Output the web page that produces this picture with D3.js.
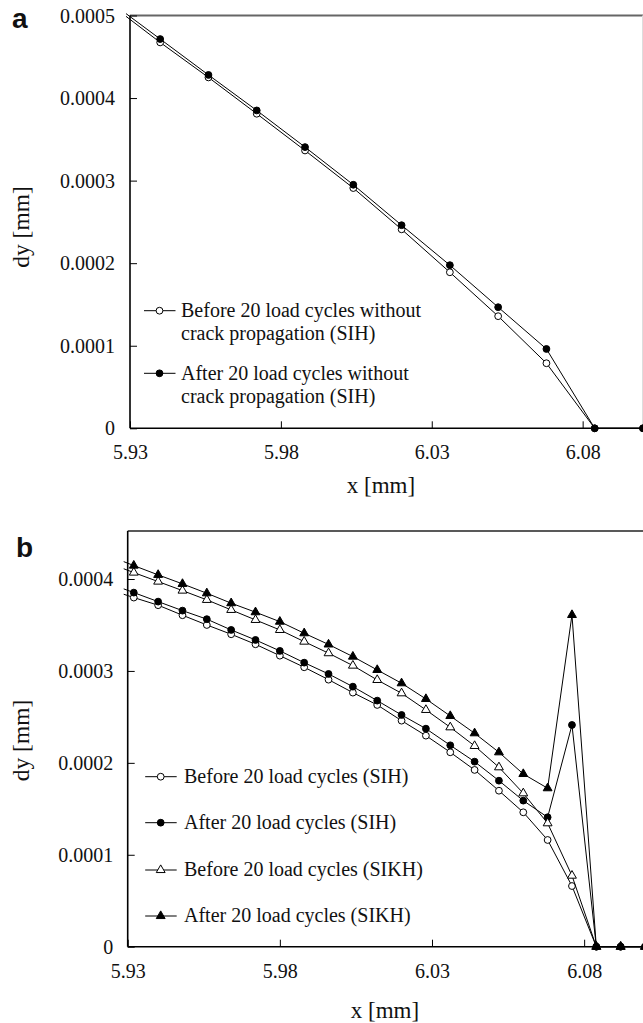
<!DOCTYPE html>
<html><head><meta charset="utf-8">
<script src="https://cdn.jsdelivr.net/npm/d3@7"></script>
<style>
html,body{margin:0;padding:0;background:#fff;}
svg{display:block;}
text{font-family:"Liberation Serif","Times New Roman",serif;fill:#111;}
.panel{font-family:"Liberation Sans",Arial,sans-serif;font-weight:bold;}
</style></head>
<body>
<script>
// ---------- data ----------
const xTickValues = [5.93, 5.98, 6.03, 6.08];
const xTickLabels = ["5.93", "5.98", "6.03", "6.08"];
const yTickValuesA = [0, 0.0001, 0.0002, 0.0003, 0.0004, 0.0005];
const yTickLabelsA = ["0", "0.0001", "0.0002", "0.0003", "0.0004", "0.0005"];
const yTickValuesB = [0, 0.0001, 0.0002, 0.0003, 0.0004];
const yTickLabelsB = ["0", "0.0001", "0.0002", "0.0003", "0.0004"];

// panel a
const xA = [5.924, 5.94, 5.956, 5.972, 5.988, 6.004, 6.02, 6.036, 6.052, 6.068, 6.084, 6.1];
const beforeA = [0.000512, 0.0004674, 0.000425, 0.000381, 0.0003365, 0.000291, 0.000241, 0.000189, 0.0001358, 0.0000788, 0, 0];
const afterA  = [0.000515, 0.0004715, 0.000428, 0.000385, 0.0003406, 0.000295, 0.000246, 0.0001976, 0.0001467, 0.0000961, 0, 0];
const legendA = [
  ["Before 20 load cycles without", "crack propagation (SIH)"],
  ["After 20 load cycles without", "crack propagation (SIH)"]
];

// panel b
const xB = [5.924, 5.932, 5.94, 5.948, 5.956, 5.964, 5.972, 5.98, 5.988, 5.996, 6.004, 6.012,
            6.02, 6.028, 6.036, 6.044, 6.052, 6.06, 6.068, 6.076, 6.084, 6.092, 6.1];
const beforeSIH  = [0.0003885, 0.0003798, 0.0003715, 0.0003606, 0.00035, 0.0003399, 0.000329, 0.0003166,
                    0.000304, 0.0002905, 0.0002764, 0.000263, 0.0002459, 0.0002296, 0.0002115, 0.0001923,
                    0.0001697, 0.0001462, 0.0001161, 0.000066, 0, 0, 0];
const afterSIH   = [0.000395, 0.0003852, 0.0003754, 0.0003656, 0.0003563, 0.0003446, 0.0003337, 0.0003218,
                    0.000309, 0.0002967, 0.0002829, 0.0002677, 0.0002521, 0.0002372, 0.0002191, 0.0002013,
                    0.0001806, 0.0001589, 0.0001408, 0.0002412, 0, 0, 0];
const beforeSIKH = [0.000417, 0.000407, 0.0003972, 0.0003874, 0.0003773, 0.0003664, 0.0003555, 0.0003446,
                    0.0003319, 0.0003193, 0.0003058, 0.0002902, 0.0002757, 0.0002576, 0.0002387, 0.0002184,
                    0.0001952, 0.0001669, 0.0001343, 0.0000773, 0, 0, 0];
const afterSIKH  = [0.000425, 0.0004146, 0.0004045, 0.0003947, 0.0003845, 0.0003737, 0.0003639, 0.0003536,
                    0.000341, 0.0003288, 0.0003156, 0.0003011, 0.0002866, 0.0002695, 0.000251, 0.0002322,
                    0.0002115, 0.0001879, 0.0001724, 0.0003609, 0, 0, 0];
const legendB = ["Before 20 load cycles (SIH)", "After 20 load cycles (SIH)",
                 "Before 20 load cycles (SIKH)", "After 20 load cycles (SIKH)"];

// ---------- drawing ----------
const W = 643, H = 1023;
const SERIF = '"Liberation Serif", "Times New Roman", serif';
const svg = d3.select("body").append("svg").attr("width", W).attr("height", H);

function marker(g, kind, x, y) {
  if (kind === "oc" || kind === "fc") {
    g.append("circle").attr("cx", x).attr("cy", y).attr("r", 3.4)
      .attr("fill", kind === "fc" ? "#000" : "#fff").attr("stroke", "#000").attr("stroke-width", 1);
  } else {
    g.append("path").attr("d", d3.symbol(d3.symbolTriangle, 34)())
      .attr("transform", `translate(${x},${y})`)
      .attr("fill", kind === "ft" ? "#000" : "#fff").attr("stroke", "#000").attr("stroke-width", 1);
  }
}

function panel(opt) {
  const g = svg.append("g");
  const x = opt.x, y = opt.y;
  const [x0, x1] = x.range();
  const yb = y(0), yt = opt.top;

  // frame top / right
  g.append("line").attr("x1", x0).attr("x2", W).attr("y1", yt).attr("y2", yt)
    .attr("stroke", opt.topColor).attr("stroke-width", opt.topWidth);
  if (opt.rightLine) {
    g.append("line").attr("x1", 642.5).attr("x2", 642.5).attr("y1", yt).attr("y2", yb)
      .attr("stroke", "#ddd").attr("stroke-width", 1);
  }

  // axes
  const ax = g.append("g").attr("transform", `translate(0,${yb})`)
    .call(d3.axisBottom(x).tickValues(xTickValues).tickFormat((d, i) => xTickLabels[i])
      .tickSizeInner(-7).tickSizeOuter(0).tickPadding(17));
  ax.attr("font-family", null).attr("font-size", null);
  ax.select(".domain").attr("stroke", "#000").attr("stroke-width", 1.6).attr("d", `M${x0},0H${W}`);
  ax.selectAll(".tick line").attr("stroke", "#000").attr("stroke-width", 1);
  ax.selectAll("text").style("font-family", SERIF).style("font-size", "20px").style("fill", "#111");

  const ay = g.append("g").attr("transform", `translate(${x0},0)`)
    .call(d3.axisLeft(y).tickValues(opt.yTicks).tickFormat((d, i) => opt.yLabels[i])
      .tickSizeInner(-7).tickSizeOuter(0).tickPadding(opt.yPad));
  ay.attr("font-family", null).attr("font-size", null);
  ay.select(".domain").attr("stroke", "#000").attr("stroke-width", 1.6).attr("d", `M0,${yt}V${yb}`);
  ay.selectAll(".tick line").attr("stroke", "#000").attr("stroke-width", 1);
  ay.selectAll("text").attr("dy", "0.33em")
    .style("font-family", SERIF).style("font-size", "20px").style("fill", "#111");

  // clip
  const cid = "clip" + opt.id;
  svg.append("clipPath").attr("id", cid).append("rect")
    .attr("x", x0 - 4).attr("y", yt - 20).attr("width", W - x0 + 10).attr("height", yb - yt + 40);
  const data = g.append("g").attr("clip-path", `url(#${cid})`);

  const line = d3.line().x(d => x(d[0])).y(d => y(d[1]));
  opt.series.forEach(s => {
    const pts = opt.xs.map((v, i) => [v, s.values[i]]);
    data.append("path").attr("d", line(pts)).attr("fill", "none")
      .attr("stroke", "#000").attr("stroke-width", 1);
    const mg = data.append("g");
    pts.filter(p => p[0] >= opt.xMin).forEach(p => marker(mg, s.kind, x(p[0]), y(p[1])));
  });

  // axis titles
  g.append("text").attr("x", opt.xTitleX).attr("y", opt.xTitleY).attr("text-anchor", "middle")
    .style("font-family", SERIF).style("font-size", "23px").text("x [mm]");
  g.append("text").attr("transform", `translate(29,${opt.yTitleY}) rotate(-90)`)
    .attr("text-anchor", "middle").style("font-family", SERIF).style("font-size", "23.5px").text("dy [mm]");
  g.append("text").attr("class", "panel").attr("x", opt.labelX).attr("y", opt.labelY)
    .style("font-size", "28px").text(opt.label);
}

function legendRow(kind, lx, ly, lines, tx, lineGap) {
  const g = svg.append("g");
  g.append("line").attr("x1", lx - 15.5).attr("x2", lx + 16).attr("y1", ly).attr("y2", ly)
    .attr("stroke", "#000").attr("stroke-width", 1);
  marker(g, kind, lx, ly);
  lines.forEach((t, i) => {
    g.append("text").attr("x", tx).attr("y", ly + 6.3 + i * lineGap)
      .style("font-family", SERIF).style("font-size", "20px").text(t);
  });
}

// panel a
const xScaleA = d3.scaleLinear().domain([5.93, 6.10]).range([130, 643]);
const yScaleA = d3.scaleLinear().domain([0, 0.0005]).range([428.3, 15.5]);
panel({
  id: "a", x: xScaleA, y: yScaleA, top: 15.5, topColor: "#666", topWidth: 1.8, rightLine: true,
  yTicks: yTickValuesA, yLabels: yTickLabelsA, yPad: 15, xs: xA, xMin: 5.93,
  series: [{kind: "oc", values: beforeA}, {kind: "fc", values: afterA}],
  xTitleX: 381, xTitleY: 493, yTitleY: 227, label: "a", labelX: 12, labelY: 28
});
legendRow("oc", 159.5, 310.7, legendA[0], 181, 22.5);
legendRow("fc", 159.5, 373.3, legendA[1], 181, 23);

// panel b
const xScaleB = d3.scaleLinear().domain([5.93, 6.10]).range([127.7, 645]);
const yScaleB = d3.scaleLinear().domain([0, 0.0004]).range([946.7, 579]);
panel({
  id: "b", x: xScaleB, y: yScaleB, top: 531, topColor: "#222", topWidth: 1.3, rightLine: false,
  yTicks: yTickValuesB, yLabels: yTickLabelsB, yPad: 14.5, xs: xB, xMin: 5.93,
  series: [{kind: "oc", values: beforeSIH}, {kind: "fc", values: afterSIH},
           {kind: "ot", values: beforeSIKH}, {kind: "ft", values: afterSIKH}],
  xTitleX: 385, xTitleY: 1018, yTitleY: 740.5, label: "b", labelX: 16, labelY: 556.5
});
const legYB = [776.7, 822.7, 870, 916];
const legKinds = ["oc", "fc", "ot", "ft"];
legendB.forEach((t, i) => legendRow(legKinds[i], 160.7, legYB[i], [t], 184, 0));
</script>
</body></html>
